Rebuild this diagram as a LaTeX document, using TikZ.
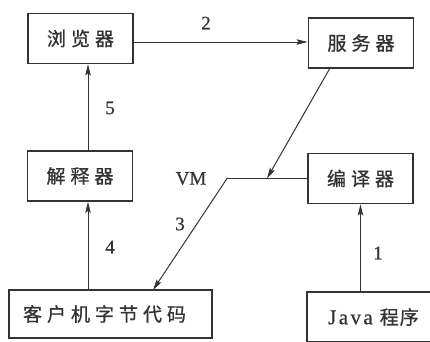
\documentclass[tikz,border=0pt]{standalone}
\usepackage{fontspec}
\setmainfont{Liberation Serif}[FakeBold=0.6]
\newfontfamily\cjk{Noto Sans CJK SC}[FakeBold=0.8]
\usetikzlibrary{arrows.meta}
\definecolor{ink}{HTML}{333333}
% small gap between the Chinese characters
\newcommand{\gp}{\kern5pt}
% tracking for the Latin word in the source box
\newcommand{\lk}{\kern2.4pt}
\tikzset{
  box/.style={draw=ink, line width=1.8pt, minimum width=105pt, minimum height=50pt,
    inner sep=0pt, font=\cjk\fontsize{19}{19}\selectfont, text=ink},
  conn/.style={draw=ink, line width=1pt},
  arr/.style={conn, -{Stealth[length=11pt, width=5.5pt, inset=2pt]}},
  lbl/.style={font=\fontsize{19}{19}\selectfont, text=ink, inner sep=0pt},
}
\begin{document}
\begin{tikzpicture}[x=1pt, y=-1pt]
  \useasboundingbox (0,0) rectangle (430,341);
  \fill[white] (0,0) rectangle (430,341);
  \clip (0,0) rectangle (430,341);

  % boxes
  \node[box] (browser) at (80.5,38.5) {浏\gp 览\gp 器};
  \node[box] (server) at (361,43) {服\gp 务\gp 器};
  \node[box] (interp) at (80,176) {解\gp 释\gp 器};
  \node[box] (compiler) at (360.5,178.5) {编\gp 译\gp 器};
  \node[box, minimum width=203pt, minimum height=48pt] (bytecode) at (110.5,314)
    {客\gp 户\gp 机\gp 字\gp 节\gp 代\gp 码\kern12pt};
  \node[box, minimum width=133pt, minimum height=50pt] (java) at (373.5,317)
    {{\rmfamily\fontsize{21}{21}\selectfont J\lk a\lk v\lk a}\kern7pt 程\kern1pt 序};

  % helper coordinates
  \coordinate (upx) at (88,0);
  \coordinate (bend) at (227,178.5);
  \coordinate (vmhit) at (267,178.5);
  \coordinate (srvout) at (330,68);
  \coordinate (cltin) at (153,290);

  % connectors
  \draw[arr] ([yshift=-3.5pt]browser.east) -- ([yshift=-3.5pt]browser.east -| server.west);
  \draw[arr] (interp.north -| upx) -- (browser.south -| upx);
  \draw[arr] (bytecode.north -| upx) -- (interp.south -| upx);
  \draw[arr] (java.north -| compiler.south) -- (compiler.south);
  \draw[conn] (compiler.west) -- (bend);
  \draw[arr] (bend) -- (cltin);
  \draw[arr] (srvout) -- (vmhit);

  % labels
  \node[lbl] (l2) at (206,23) {2};
  \node[lbl] (l5) at (110,108) {5};
  \node[lbl] (l4) at (110,247) {4};
  \node[lbl] (l1) at (378,253) {1};
  \node[lbl] (l3) at (180,224) {3};
  \node[lbl] (lvm) at (191,178.5) {VM};
\end{tikzpicture}
\end{document}
